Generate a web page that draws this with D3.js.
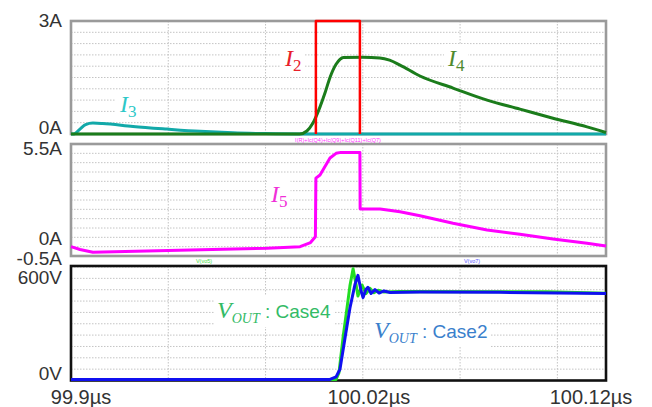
<!DOCTYPE html>
<html>
<head>
<meta charset="utf-8">
<script src="https://cdn.jsdelivr.net/npm/d3@7/dist/d3.min.js"></script>
<style>
  body { margin: 0; background: #fff; }
  svg { display: block; font-family: "Liberation Sans", Arial, sans-serif; }
</style>
</head>
<body>
<div id="chart"></div>
<script>
// time axis (µs)
const xTicks = [99.9, 100.02, 100.12];
const xGrid = [99.94, 99.98, 100.02, 100.06, 100.10];

// panel 1: I2, I3, I4 (A)
const p1Ticks = [3, 0];
const i2Time = [100.0007, 100.0007, 100.0188, 100.0188];
const i2Val  = [0, 3, 3, 0];
const i3Time = [99.9, 99.9012, 99.9037, 99.906, 99.909, 99.913, 99.9255, 99.9395, 99.953, 99.9666, 99.98, 99.994, 100.12];
const i3Val  = [0, 0, 0.13, 0.25, 0.29, 0.28, 0.2, 0.13, 0.07, 0.03, 0.01, 0, 0];
const i4Time = [99.9, 99.994, 99.997, 99.9995, 100.0024, 100.0045, 100.0065, 100.009, 100.0106, 100.012, 100.02, 100.027, 100.031, 100.0353, 100.0435, 100.0571, 100.0711, 100.0846, 100.0982, 100.1122, 100.12];
const i4Val  = [0, 0, 0.08, 0.29, 0.72, 1.1, 1.5, 1.85, 1.98, 2.03, 2.04, 2.02, 1.96, 1.83, 1.54, 1.22, 0.9, 0.66, 0.42, 0.19, 0.04];

// panel 2: I5 (A)
const p2Ticks = [5.5, 0, -0.5];
const i5Time = [99.9, 99.9037, 99.909, 99.94, 99.9806, 99.9942, 99.9985, 100.0005, 100.0007, 100.0024, 100.0065, 100.009, 100.011, 100.0188, 100.0189, 100.0271, 100.0353, 100.0435, 100.0571, 100.0711, 100.0846, 100.0982, 100.1122, 100.12];
const i5Val  = [0, -0.15, -0.3, -0.2, -0.08, 0, 0.22, 0.53, 3.67, 3.84, 4.75, 5.0, 5.05, 5.05, 2.02, 2.02, 1.87, 1.66, 1.25, 0.89, 0.66, 0.41, 0.18, 0.04];

// panel 3: VOUT (V)
const p3Ticks = [600, 0];
const case4Time = [99.9, 100.009, 100.0102, 100.0119, 100.0135, 100.0147, 100.016, 100.0172, 100.018, 100.0197, 100.0213, 100.023, 100.0246, 100.0263, 100.0287, 100.0353, 100.0957, 100.12];
const case4Val  = [0, 0, 40, 250, 420, 550, 650, 560, 490, 555, 505, 535, 510, 524, 514, 517, 515, 507];
const case2Time = [99.9, 100.0065, 100.009, 100.0106, 100.0127, 100.0147, 100.0168, 100.018, 100.0193, 100.0201, 100.0213, 100.0221, 100.0234, 100.025, 100.0267, 100.0287, 100.0312, 100.0435, 100.0764, 100.12];
const case2Val  = [0, 0, 15, 60, 245, 420, 560, 612, 520, 481, 530, 542, 505, 528, 508, 520, 511, 514, 512, 505];

const W = 652, H = 407;
const left = 71, right = 606;

const svg = d3.select("#chart").append("svg")
  .attr("width", W).attr("height", H);

const x = d3.scaleLinear().domain([99.9, 100.12]).range([left, right]);

function zip(t, v) { return t.map((d, i) => ({ t: d, v: v[i] })); }

function panel(y, gridStep) {
  const [y0, y1] = y.domain();
  const g = svg.append("g");
  const hs = [];
  for (let v = y0 + gridStep; v < y1 - 1e-9; v += gridStep) hs.push(v);
  g.selectAll(".hg").data(hs).enter().append("line")
    .attr("x1", left).attr("x2", right)
    .attr("y1", d => y(d)).attr("y2", d => y(d))
    .attr("stroke", "#c4c4c4").attr("stroke-width", 1)
    .attr("stroke-dasharray", "1.5,1.5");
  g.selectAll(".vg").data(xGrid).enter().append("line")
    .attr("x1", d => x(d)).attr("x2", d => x(d))
    .attr("y1", y.range()[1]).attr("y2", y.range()[0])
    .attr("stroke", "#c4c4c4").attr("stroke-width", 1)
    .attr("stroke-dasharray", "1.5,1.5");
  return g;
}

function frame(y, color) {
  svg.append("rect")
    .attr("x", left).attr("y", y.range()[1])
    .attr("width", right - left).attr("height", y.range()[0] - y.range()[1])
    .attr("fill", "none").attr("stroke", color).attr("stroke-width", 2.6);
}

function curve(y, data, color, w, c) {
  const line = d3.line().x(d => x(d.t)).y(d => y(d.v)).curve(c || d3.curveLinear);
  svg.append("path").datum(data)
    .attr("d", line)
    .attr("fill", "none").attr("stroke", color)
    .attr("stroke-width", w).attr("stroke-linejoin", "round");
}

function yLabels(y, ticks, unit, nudge) {
  svg.selectAll(null).data(ticks).enter().append("text")
    .attr("x", 62).attr("y", (d, i) => y(d) + nudge[i])
    .attr("dy", "0.35em").attr("text-anchor", "end")
    .attr("font-size", 19).attr("fill", "#333")
    .text(d => d + unit);
}

// label with math-style subscript and white backing
function mathLabel(px, py, main, sub, rest, color, mainSize, subSize) {
  const g = svg.append("g");
  const t = g.append("text").attr("x", px).attr("y", py).attr("fill", color);
  t.append("tspan").text(main)
    .attr("font-family", "'Liberation Serif', 'DejaVu Serif', serif")
    .attr("font-style", "italic").attr("font-size", mainSize);
  t.append("tspan").text(sub)
    .attr("font-family", "'Liberation Serif', 'DejaVu Serif', serif")
    .attr("font-style", rest ? "italic" : "normal")
    .attr("font-size", subSize).attr("dy", 5);
  if (rest) {
    t.append("tspan").text(rest).attr("font-size", 19).attr("dy", -5);
  }
  const b = t.node().getBBox();
  g.insert("rect", "text")
    .attr("x", b.x - 3).attr("y", b.y - 1)
    .attr("width", b.width + 6).attr("height", b.height + 2)
    .attr("fill", "#fff");
}

// ---- panel 1
const y1 = d3.scaleLinear().domain([0, 3]).range([134, 21]);
panel(y1, 0.3);
mathLabel(285, 66, "I", "2", null, "#e8202a", 24, 17);
mathLabel(120, 112, "I", "3", null, "#2ec8c8", 24, 17);
mathLabel(448, 66, "I", "4", null, "#4f8a2e", 24, 17);
frame(y1, "#9a9a9a");
curve(y1, zip(i3Time, i3Val), "#12a9a9", 3, d3.curveMonotoneX);
curve(y1, zip(i4Time, i4Val), "#1b7c1b", 3, d3.curveMonotoneX);
curve(y1, zip(i2Time, i2Val), "#ff0000", 2.5);
yLabels(y1, p1Ticks, "A", [-1, -7]);

// ---- panel 2
const y2 = d3.scaleLinear().domain([-0.5, 5.5]).range([256, 144]);
panel(y2, 0.5);
mathLabel(271, 202, "I", "5", null, "#f030d8", 24, 17);
frame(y2, "#9a9a9a");
curve(y2, zip(i5Time, i5Val), "#ff00ff", 3);
yLabels(y2, p2Ticks, "A", [4, -8, 2]);

svg.append("text").attr("x", 338).attr("y", 141.5).attr("text-anchor", "middle")
  .attr("font-size", 5.5).attr("fill", "#ff33ff")
  .text("I(R)+Ic(Q4)+Ic(Q9)+Ic(Q11)+Ic(Q7)");

// ---- panel 3
const y3 = d3.scaleLinear().domain([-6, 2000 / 3]).range([380.5, 266]);
panel(y3, 200 / 3);
mathLabel(217, 318, "V", "OUT", " : Case4", "#33bb66", 24, 14);
mathLabel(374, 338, "V", "OUT", " : Case2", "#3a80cc", 24, 14);
frame(y3, "#111");
curve(y3, zip(case4Time, case4Val), "#22dd22", 3);
curve(y3, zip(case2Time, case2Val), "#1010f0", 3);
yLabels(y3, p3Ticks, "V", [0, -6]);

svg.append("text").attr("x", 204).attr("y", 263).attr("text-anchor", "middle")
  .attr("font-size", 5.5).attr("fill", "#44dd44").text("V(vo5)");
svg.append("text").attr("x", 472).attr("y", 263).attr("text-anchor", "middle")
  .attr("font-size", 5.5).attr("fill", "#5555ff").text("V(vo7)");

// ---- time labels
const xNudge = [10, 6, -15];
svg.selectAll(null).data(xTicks).enter().append("text")
  .attr("x", (d, i) => x(d) + xNudge[i]).attr("y", 397)
  .attr("dy", "0.35em").attr("text-anchor", "middle")
  .attr("font-size", 20).attr("fill", "#333")
  .text(d => d + "µs");
</script>
</body>
</html>
